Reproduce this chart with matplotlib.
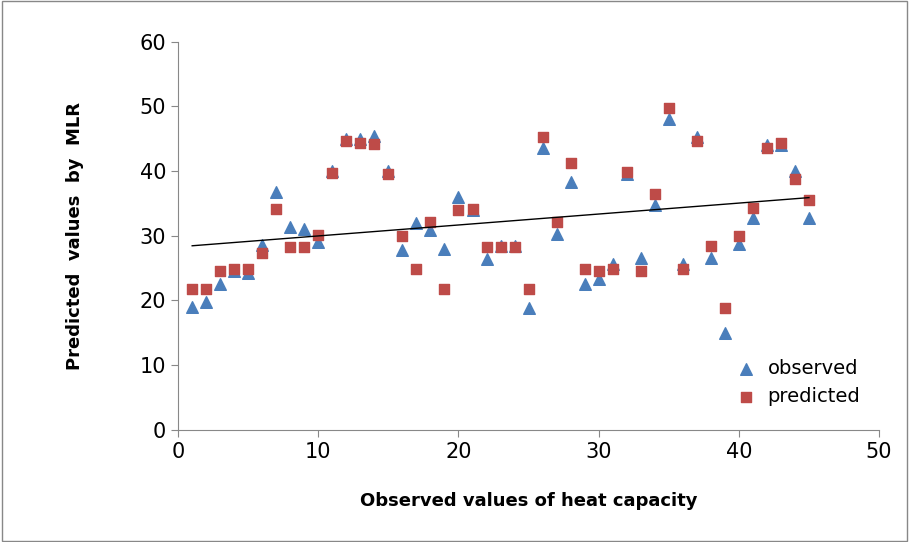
import numpy as np
import matplotlib.pyplot as plt

x = np.arange(1, 46)
observed = [19.0, 19.7, 22.6, 24.5, 24.3, 28.5, 36.7, 31.3, 31.1, 29.0,
            40.0, 45.0, 45.0, 45.5, 40.0, 27.8, 31.9, 30.9, 28.0, 36.0,
            34.0, 26.4, 28.4, 28.4, 18.9, 43.6, 30.2, 38.3, 22.6, 23.3,
            25.6, 39.6, 26.6, 34.8, 48.0, 25.6, 45.3, 26.6, 15.0, 28.8,
            32.7, 44.0, 44.0, 40.0, 32.8]
predicted = [21.7, 21.7, 24.6, 24.8, 24.8, 27.4, 34.2, 28.2, 28.2, 30.1,
             39.7, 44.6, 44.4, 44.2, 39.5, 30.0, 24.8, 32.1, 21.7, 34.0,
             34.2, 28.2, 28.2, 28.2, 21.7, 45.2, 32.1, 41.2, 24.8, 24.6,
             24.8, 39.9, 24.6, 36.4, 49.8, 24.9, 44.6, 28.4, 18.9, 29.9,
             34.3, 43.6, 44.4, 38.8, 35.5]

fig = plt.figure(figsize=(9.09, 5.42), dpi=100)
fig.patches.append(plt.Rectangle((0.002, 0.002), 0.996, 0.996, transform=fig.transFigure,
                                 fill=False, edgecolor='#888888', linewidth=1))
ax = fig.add_axes([0.196, 0.207, 0.771, 0.716])

ax.scatter(x, observed, marker='^', s=70, color='#4a7ebb', label='observed', zorder=3)
ax.scatter(x, predicted, marker='s', s=45, color='#be4b48', label='predicted', zorder=4)
k, b = np.polyfit(x, predicted, 1)
ax.plot([1, 45], [k * 1 + b, k * 45 + b], color='black', linewidth=1, zorder=5)

ax.set_xlim(0, 50)
ax.set_ylim(0, 60)
ax.set_xticks(range(0, 51, 10))
ax.set_yticks(range(0, 61, 10))
for s in ['top', 'right']:
    ax.spines[s].set_visible(False)
ax.spines['left'].set_color('#888888')
ax.spines['bottom'].set_color('#888888')
ax.tick_params(labelsize=15, color='#888888', direction='out', length=5)
ax.set_xlabel('Observed values of heat capacity', fontsize=13, fontweight='bold', labelpad=22)
ax.set_ylabel('Predicted  values  by  MLR', fontsize=13, fontweight='bold', labelpad=40)
ax.legend(loc='lower right', bbox_to_anchor=(0.99, 0.03), frameon=False, fontsize=14,
          handletextpad=0.1, borderaxespad=0.2)

fig.savefig('out.png', dpi=100)
